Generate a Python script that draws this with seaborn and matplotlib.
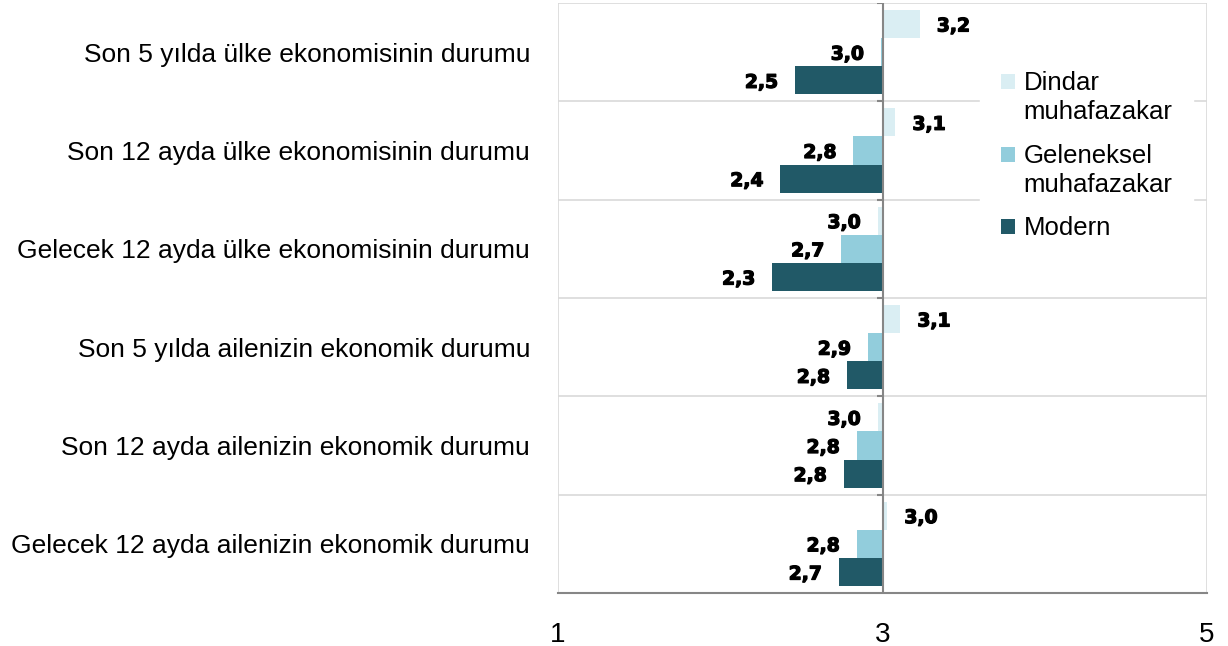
import numpy as np
import pandas as pd
import matplotlib
matplotlib.use("Agg")
import matplotlib.pyplot as plt
import matplotlib.patheffects as pe
from matplotlib.container import BarContainer
from matplotlib.legend_handler import HandlerPatch, update_from_first_child
from matplotlib.patches import Rectangle
from matplotlib.ticker import FuncFormatter
import seaborn as sns

# Datos (escala 1-5, el eje cruza en 3)
categorias = [
    "Son 5 yılda ülke ekonomisinin durumu",
    "Son 12 ayda ülke ekonomisinin durumu",
    "Gelecek 12 ayda ülke ekonomisinin durumu",
    "Son 5 yılda ailenizin ekonomik durumu",
    "Son 12 ayda ailenizin ekonomik durumu",
    "Gelecek 12 ayda ailenizin ekonomik durumu",
]
grupos = ["Dindar\nmuhafazakar", "Geleneksel\nmuhafazakar", "Modern"]
dindar = [3.23, 3.08, 2.97, 3.11, 2.97, 3.03]
geleneksel = [2.99, 2.82, 2.745, 2.91, 2.84, 2.84]
modern = [2.46, 2.37, 2.32, 2.78, 2.76, 2.73]
colores = ["#DAEEF3", "#92CDDC", "#215967"]
cruce = 3

rows = []
for g, vals in zip(grupos, [dindar, geleneksel, modern]):
    for c, v in zip(categorias, vals):
        rows.append({"categoria": c, "grupo": g, "valor": v, "dif": v - cruce})
df = pd.DataFrame(rows)

sns.set_style("white")
plt.rcParams["font.family"] = ["Liberation Sans", "DejaVu Sans"]
plt.rcParams["text.color"] = "black"
plt.rcParams["xtick.color"] = "black"
plt.rcParams["ytick.color"] = "black"

fig = plt.figure(figsize=(12.28, 6.46), dpi=100)
ax = fig.add_axes([558 / 1228, 1 - 593 / 646, (1207 - 558) / 1228, (593 - 3) / 646])

sns.barplot(data=df, y="categoria", x="dif", hue="grupo", order=categorias,
            hue_order=grupos, palette=colores, orient="h", width=0.86,
            saturation=1, errorbar=None, linewidth=0, ax=ax, zorder=3)

ax.set_xlim(-2, 2)
ax.set_ylim(len(categorias) - 0.5, -0.5)
ax.set_xticks([-2, 0, 2])
ax.xaxis.set_major_formatter(FuncFormatter(lambda x, p: f"{x + cruce:g}"))
ax.set_xlabel("")
ax.set_ylabel("")

# lineas de division entre categorias
bordes = np.arange(-0.5, len(categorias), 1)
ax.set_yticks(bordes, minor=True)
ax.grid(axis="y", which="minor", color="#D9D9D9", linewidth=1.2, zorder=0)
ax.grid(axis="x", which="major", color="#D9D9D9", linewidth=1.2, zorder=0)
ax.grid(axis="y", which="major", visible=False)
ax.tick_params(axis="y", which="both", length=0, pad=20, labelsize=19)
ax.tick_params(axis="x", length=6, width=1.2, color="#868686", pad=15, labelsize=20)

for s in ["top", "right", "left"]:
    ax.spines[s].set_visible(False)
ax.spines["bottom"].set_color("#868686")
ax.spines["bottom"].set_linewidth(1.5)
ax.spines["bottom"].set_zorder(5)
ax.axvline(0, color="#868686", linewidth=1.5, zorder=5)
ax.hlines(bordes[:-1], -0.035, 0, color="#868686", linewidth=1.5, zorder=5)

# etiquetas de valores
for cont in ax.containers:
    for bar in cont:
        w = bar.get_width()
        v = w + cruce
        yc = bar.get_y() + bar.get_height() / 2
        txt = f"{v:.1f}".replace(".", ",")
        off = 17 if w >= 0 else -17
        ax.annotate(txt, (w, yc), xytext=(off, -2), textcoords="offset pixels",
                    ha="left" if w >= 0 else "right", va="center",
                    fontsize=13.5, fontweight="heavy", family="DejaVu Sans",
                    color="black", zorder=6,
                    path_effects=[pe.withStroke(linewidth=0.9, foreground="black")])

handles, labels = ax.get_legend_handles_labels()
etiqueta_de = {id(h): l for h, l in zip(handles, labels)}


# el cuadrito de la leyenda va a la altura de la primera linea del texto
def cuadro(legend, orig_handle, xdescent, ydescent, width, height, fontsize):
    subir = 0
    if "\n" in etiqueta_de.get(id(orig_handle), ""):
        subir = fontsize * 0.64
    return Rectangle((-xdescent, -ydescent + subir), width, height)


leg = ax.legend(handles, labels, loc="upper left",
                bbox_to_anchor=(980 / 1228, 1 - 50 / 646),
                bbox_transform=fig.transFigure, borderaxespad=0, frameon=True,
                fontsize=18.5, handlelength=0.55, handleheight=0.55,
                handletextpad=0.35, labelspacing=0.75, borderpad=0.8,
                handler_map={BarContainer: HandlerPatch(patch_func=cuadro,
                                                        update_func=update_from_first_child),
                             Rectangle: HandlerPatch(patch_func=cuadro)})
for t in leg.get_texts():
    t.set_linespacing(1.3)
leg.get_frame().set_facecolor("white")
leg.get_frame().set_edgecolor("white")
leg.get_frame().set_alpha(1)
leg.set_zorder(10)

fig.savefig("out.png", dpi=100)
plt.close()
